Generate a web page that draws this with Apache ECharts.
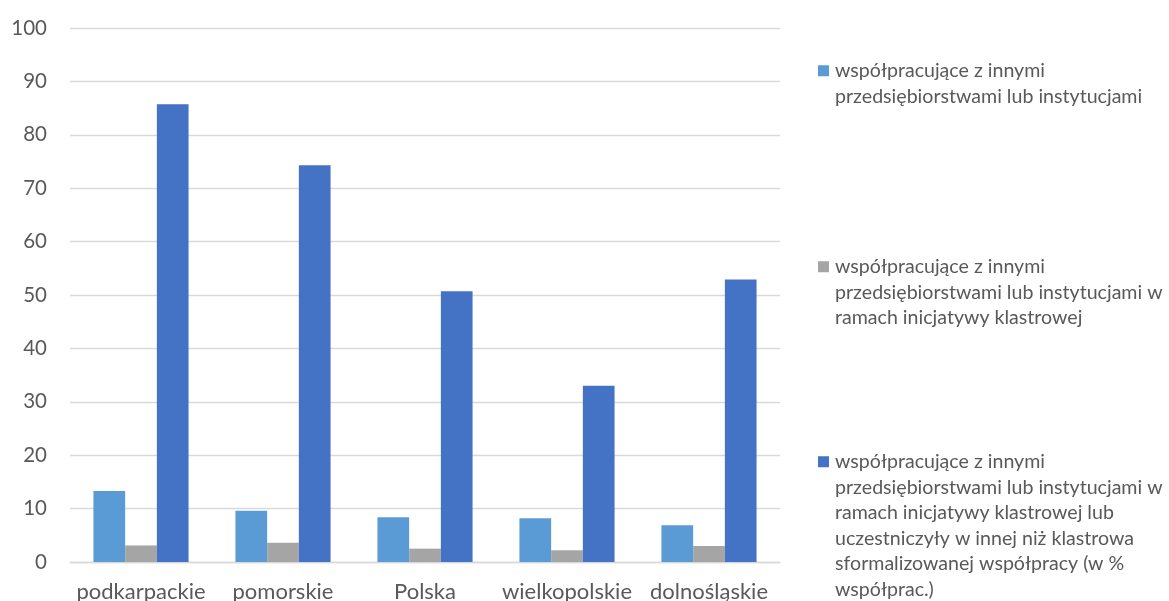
<!DOCTYPE html>
<html>
<head>
<meta charset="utf-8">
<script src="https://cdn.jsdelivr.net/npm/echarts@6/dist/echarts.min.js"></script>
<style>
  html, body { margin: 0; padding: 0; background: #ffffff; }
  #chart { width: 1169px; height: 601px; }
</style>
</head>
<body>
<div id="chart"></div>
<script>
// Regions shown on the category axis
const categories = ['podkarpackie', 'pomorskie', 'Polska', 'wielkopolskie', 'dolnośląskie'];

// Share of enterprises (%)
const cooperating = [13.3, 9.6, 8.4, 8.2, 6.9];
const clusterInitiative = [3.1, 3.6, 2.5, 2.2, 3.0];
const clusterShareOfCooperating = [85.7, 74.3, 50.7, 33.0, 52.9];

// Value axis ticks
const yTicks = [0, 10, 20, 30, 40, 50, 60, 70, 80, 90, 100];

// Series names and their wrapped legend lines
const seriesLines = [
  ['współpracujące z innymi', 'przedsiębiorstwami lub instytucjami'],
  ['współpracujące z innymi', 'przedsiębiorstwami lub instytucjami w', 'ramach inicjatywy klastrowej'],
  ['współpracujące z innymi', 'przedsiębiorstwami lub instytucjami w', 'ramach inicjatywy klastrowej lub',
   'uczestniczyły w innej niż klastrowa', 'sformalizowanej współpracy (w %', 'współprac.)']
];
const seriesNames = seriesLines.map(l => l.join(' '));
const seriesData = [cooperating, clusterInitiative, clusterShareOfCooperating];
const colors = ['#5B9BD5', '#A5A5A5', '#4472C4'];

const FONT = 'Lato, "Open Sans", sans-serif';
const TEXT = '#595959';
const GRID = '#D9D9D9';
const LEGEND_SIZE = 19.6;
const LEGEND_LINE = 25.5;

const rich = { ind: { width: 17 } };
colors.forEach((c, i) => {
  rich['b' + i] = { width: 11, height: 11, backgroundColor: c };
  rich['g' + i] = { width: 6 };
});

function legendFor(i, top) {
  return {
    show: true,
    data: [seriesNames[i]],
    left: 813,
    top: top,
    padding: 0,
    orient: 'vertical',
    itemWidth: 0,
    itemHeight: 0,
    selectedMode: false,
    textStyle: {
      fontFamily: FONT,
      fontSize: LEGEND_SIZE,
      color: TEXT,
      lineHeight: LEGEND_LINE,
      rich: Object.assign({}, rich, {
        t: { fontFamily: FONT, fontSize: LEGEND_SIZE, color: TEXT, lineHeight: LEGEND_LINE }
      })
    },
    formatter: function () {
      const lines = seriesLines[i];
      return lines.map((ln, k) =>
        (k === 0 ? '{b' + i + '|}{g' + i + '|}' : '{ind|}') + '{t|' + ln + '}'
      ).join('\n');
    }
  };
}

const chart = echarts.init(document.getElementById('chart'), null, { renderer: 'canvas' });

chart.setOption({
  backgroundColor: '#ffffff',
  animation: false,
  grid: { left: 70, right: 389, top: 28, bottom: 39, containLabel: false, outerBoundsMode: 'none' },
  legend: [legendFor(0, 58), legendFor(1, 254), legendFor(2, 449)],
  xAxis: {
    type: 'category',
    data: categories,
    axisLine: { show: true, lineStyle: { color: GRID, width: 1.3 } },
    axisTick: { show: false },
    axisLabel: { fontFamily: FONT, fontSize: 22, color: TEXT, margin: 19, interval: 0 }
  },
  yAxis: {
    type: 'value',
    min: yTicks[0],
    max: yTicks[yTicks.length - 1],
    interval: yTicks[1] - yTicks[0],
    axisLine: { show: false },
    axisTick: { show: false },
    axisLabel: { fontFamily: FONT, fontSize: 20.5, color: TEXT, margin: 23 },
    splitLine: { show: true, lineStyle: { color: GRID, width: 1.3 } }
  },
  series: seriesNames.map((name, i) => ({
    name: name,
    type: 'bar',
    data: seriesData[i],
    itemStyle: { color: colors[i] },
    barGap: '0%',
    barCategoryGap: '33%'
  }))
});
</script>
</body>
</html>
